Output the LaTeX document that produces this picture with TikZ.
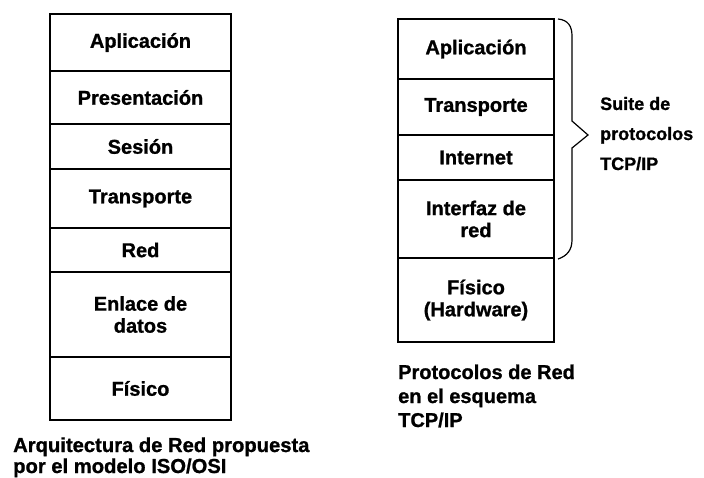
\documentclass[tikz,border=0pt]{standalone}
\usepackage{fontspec}
\setmainfont{Liberation Sans}[BoldFeatures={FakeBold=1}]
\begin{document}
\begin{tikzpicture}[x=1pt,y=-1pt,
  font=\fontsize{20}{22}\selectfont\bfseries,
  layer/.style={draw, line width=1.3pt, inner sep=0pt, align=center},
  osi/.style={layer, minimum width=181pt},
  tcp/.style={layer, minimum width=156pt},
  caption/.style={anchor=base west, align=left, inner sep=0pt}]
\useasboundingbox (0,0) rectangle (704,478);
% OSI stack
\node[osi, minimum height=57pt] (oapl) at (140.5,42.5) {Aplicación};
\node[osi, minimum height=53pt] (opres) at (140.5,97.5) {Presentación};
\node[osi, minimum height=45pt] (oses) at (140.5,146.5) {Sesión};
\node[osi, minimum height=59pt] (otra) at (140.5,198.5) {Transporte};
\node[osi, minimum height=44pt] (ored) at (140.5,250) {Red};
\node[osi, minimum height=85pt] (oenl) at (140.5,314.5) {Enlace de\\datos};
\node[osi, minimum height=63pt] (ofis) at (140.5,388.5) {Físico};
\node[caption, font=\fontsize{20.2}{21}\selectfont\bfseries] (ocap) at (13,473) {Arquitectura de Red propuesta\\por el modelo ISO/OSI};
% TCP/IP stack
\node[tcp, minimum height=60pt] (tapl) at (476,49) {Aplicación};
\node[tcp, minimum height=56pt] (ttra) at (476,107) {Transporte};
\node[tcp, minimum height=45pt] (tint) at (476,157.5) {Internet};
\node[tcp, minimum height=78pt] (tifz) at (476,219) {Interfaz de\\red};
\node[tcp, minimum height=84pt] (tfis) at (476,300) {Físico\\(Hardware)};
\node[caption, font=\fontsize{20}{24}\selectfont\bfseries] (tcap) at (398,427) {Protocolos de Red\\en el esquema\\TCP/IP};
% brace
\draw[line width=1.2pt] (558,19) .. controls (568,20) and (572,26) .. (572,36)
  -- (572,121) -- (588,135) -- (572,148) -- (572,240)
  .. controls (572,250) and (567,256) .. (558,259);
\node[caption, font=\fontsize{18}{30}\selectfont\bfseries] (suite) at (600,170) {Suite de\\protocolos\\TCP/IP};
\end{tikzpicture}
\end{document}
